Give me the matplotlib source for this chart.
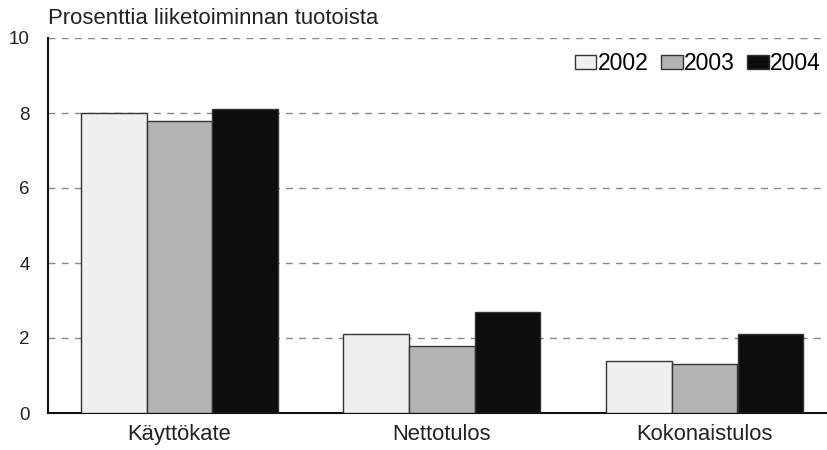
import matplotlib.pyplot as plt
import numpy as np

plt.rcParams['font.family'] = ['Liberation Sans', 'DejaVu Sans']

categories = ['Käyttökate', 'Nettotulos', 'Kokonaistulos']
years = ['2002', '2003', '2004']
values_2002 = [8.0, 2.1, 1.4]
values_2003 = [7.8, 1.8, 1.3]
values_2004 = [8.1, 2.7, 2.1]
yticks = [0, 2, 4, 6, 8, 10]

fig = plt.figure(figsize=(8.28, 4.5), dpi=100)
ax = fig.add_axes([48 / 828, 37 / 450, 788 / 828, 375 / 450])

x = np.arange(len(categories))
w = 0.25
colors = ['#efefef', '#b3b3b3', '#0d0d0d']
series = [values_2002, values_2003, values_2004]
for i, (vals, c, lab) in enumerate(zip(series, colors, years)):
    ax.bar(x + (i - 1) * w, vals, w, color=c, edgecolor='#333333',
           linewidth=1.0, label=lab, zorder=3)

ax.set_xlim(-0.5, 2.5)
ax.set_ylim(0, 10)
ax.set_yticks(yticks)
ax.set_xticks(x)
ax.set_xticklabels(categories, fontsize=15.8)
ax.tick_params(axis='y', length=0, pad=13, labelsize=13.5, colors='#222222')
ax.tick_params(axis='x', length=0, pad=8, colors='#222222')
ax.yaxis.grid(True, linestyle=(0, (5, 4.5)), color='#888888', linewidth=1.0, zorder=0)
ax.spines['top'].set_visible(False)
ax.spines['right'].set_visible(False)
ax.spines['left'].set_linewidth(1.5)
ax.spines['bottom'].set_linewidth(1.5)
ax.spines['left'].set_color('#111111')
ax.spines['bottom'].set_color('#111111')

fig.text(48 / 828, 1 - 18 / 450, 'Prosenttia liiketoiminnan tuotoista',
         fontsize=15.9, va='center', ha='left', color='#222222')

fig.legend(loc='center right', bbox_to_anchor=(821 / 828, 1 - 64 / 450),
           ncol=3, frameon=False, fontsize=16.5, handlelength=0.95,
           handleheight=0.56, handletextpad=0.05, columnspacing=0.55,
           borderaxespad=0, borderpad=0)

fig.savefig('out.png', dpi=100)
